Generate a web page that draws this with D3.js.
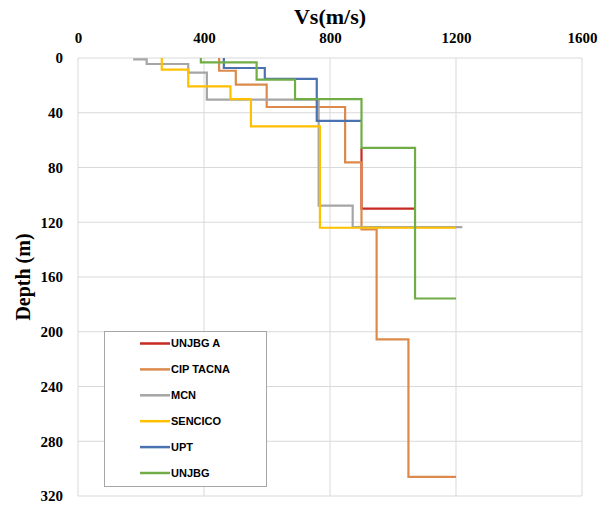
<!DOCTYPE html>
<html>
<head>
<meta charset="utf-8">
<script src="https://cdn.jsdelivr.net/npm/d3@7"></script>
<style>
  body { margin: 0; background: #fff; }
  .tick text { font-family: "Liberation Serif", "Times New Roman", serif; font-weight: bold; font-size: 15px; fill: #000; }
</style>
</head>
<body>
<div id="chart"></div>
<script>
// Vs profiles: each series is a list of corner points (Vs, depth),
// drawn as steps (depth changes first, then Vs)
var seriesNames = ["UNJBG A", "CIP TACNA", "MCN", "SENCICO", "UPT", "UNJBG"];
var seriesColors = ["#C62A22", "#DC8A4C", "#A5A5A5", "#FFC000", "#4A72B0", "#70AD47"];

var vsUnjbgA = [900, 1070];
var depthUnjbgA = [66, 110];

var vsCip = [448, 501, 599, 848, 900, 948, 1049, 1200];
var depthCip = [0, 9.3, 19.5, 35.8, 76.2, 125.3, 205.6, 306];

var vsMcn = [175, 218, 350, 409, 764, 872, 1220];
var depthMcn = [1, 1, 4.4, 10.7, 30.4, 107.8, 123.6];

var vsSencico = [266, 350, 484, 549, 768, 1200];
var depthSencico = [0, 8.5, 20.7, 30, 50, 124];

var vsUpt = [463, 593, 758, 900];
var depthUpt = [0, 7.3, 15.3, 46];

var vsUnjbg = [390, 567, 689, 900, 1070, 1200];
var depthUnjbg = [0, 3.2, 15.8, 30, 65.7, 175.7];

var xTicks = [0, 400, 800, 1200, 1600];
var yTicks = [0, 40, 80, 120, 160, 200, 240, 280, 320];

var allVs = [vsUnjbgA, vsCip, vsMcn, vsSencico, vsUpt, vsUnjbg];
var allDepth = [depthUnjbgA, depthCip, depthMcn, depthSencico, depthUpt, depthUnjbg];

var W = 600, H = 505;
var margin = {top: 58, right: 18, bottom: 9, left: 78};
var width = W - margin.left - margin.right,
    height = H - margin.top - margin.bottom;

var svg = d3.select("#chart")
    .append("svg")
        .attr("width", W)
        .attr("height", H)
    .append("g")
        .attr("transform", "translate(" + margin.left + "," + margin.top + ")");

var xScale = d3.scaleLinear().domain([0, 1600]).range([0, width]);
var yScale = d3.scaleLinear().domain([0, 320]).range([0, height]);

// gridlines
svg.append("g")
    .selectAll("line.vg")
    .data(xTicks)
    .enter().append("line")
        .attr("x1", function(d) { return xScale(d); })
        .attr("x2", function(d) { return xScale(d); })
        .attr("y1", 0).attr("y2", height)
        .attr("stroke", "#D9D9D9").attr("stroke-width", 1);
svg.append("g")
    .selectAll("line.hg")
    .data(yTicks)
    .enter().append("line")
        .attr("y1", function(d) { return yScale(d); })
        .attr("y2", function(d) { return yScale(d); })
        .attr("x1", 0).attr("x2", width)
        .attr("stroke", "#D9D9D9").attr("stroke-width", 1);

// axes (labels only)
var xAxis = svg.append("g")
    .call(d3.axisTop(xScale).tickValues(xTicks).tickSize(0).tickPadding(15).tickFormat(d3.format("d")));
xAxis.select(".domain").remove();

var yAxis = svg.append("g")
    .call(d3.axisLeft(yScale).tickValues(yTicks).tickSize(0).tickPadding(15).tickFormat(d3.format("d")));
yAxis.select(".domain").remove();

// titles
svg.append("text")
    .attr("x", xScale(800))
    .attr("y", -34)
    .attr("text-anchor", "middle")
    .style("font-family", "'Liberation Serif', 'Times New Roman', serif")
    .style("font-weight", "bold")
    .style("font-size", "22px")
    .text("Vs(m/s)");

svg.append("text")
    .attr("transform", "translate(" + (-48) + "," + yScale(160) + ") rotate(-90)")
    .attr("text-anchor", "middle")
    .style("font-family", "'Liberation Serif', 'Times New Roman', serif")
    .style("font-weight", "bold")
    .style("font-size", "20px")
    .text("Depth (m)");

// profiles
var line = d3.line()
    .x(function(d) { return xScale(d[0]); })
    .y(function(d) { return yScale(d[1]); })
    .curve(d3.curveStepBefore);

seriesNames.forEach(function(name, i) {
    var pts = d3.zip(allVs[i], allDepth[i]);
    svg.append("path")
        .datum(pts)
        .attr("fill", "none")
        .attr("stroke", seriesColors[i])
        .attr("stroke-width", 2.2)
        .attr("d", line);
});

// legend
var legend = svg.append("g")
    .attr("transform", "translate(" + (104 - margin.left) + "," + (331 - margin.top) + ")");
legend.append("rect")
    .attr("x", 0.5).attr("y", 0.5)
    .attr("width", 162).attr("height", 155)
    .attr("fill", "#fff")
    .attr("stroke", "#A6A6A6");

var items = legend.selectAll("g.item")
    .data(seriesNames)
    .enter().append("g")
        .attr("transform", function(d, i) { return "translate(0," + (12.5 + i * 25.9) + ")"; });
items.append("line")
    .attr("x1", 36).attr("x2", 66)
    .attr("stroke", function(d, i) { return seriesColors[i]; })
    .attr("stroke-width", 2.5);
items.append("text")
    .attr("x", 67)
    .attr("dy", "0.36em")
    .style("font-family", "'Liberation Sans', Arial, sans-serif")
    .style("font-weight", "bold")
    .style("font-size", "11px")
    .text(function(d) { return d; });
</script>
</body>
</html>
